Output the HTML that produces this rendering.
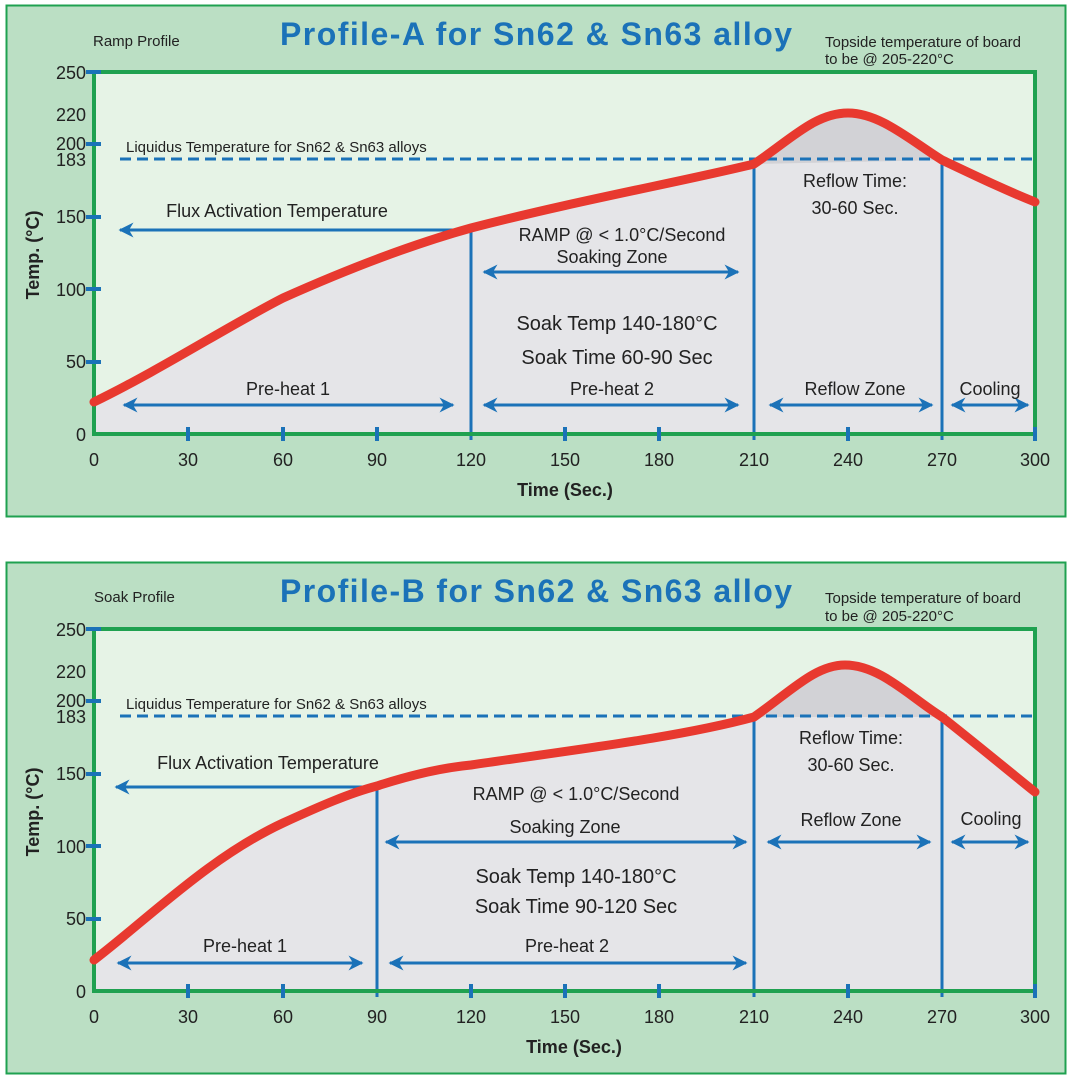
<!DOCTYPE html>
<html><head><meta charset="utf-8"><style>
body{margin:0;background:#fff;}
svg{display:block;font-family:"Liberation Sans",sans-serif;}
</style></head><body>
<svg width="1071" height="1080" viewBox="0 0 1071 1080">
<defs>
<marker id="ah" viewBox="0 0 10 10" refX="9" refY="5" markerWidth="8" markerHeight="5" orient="auto-start-reverse"><path d="M0,0 L10,5 L0,10 L3,5 Z" fill="#1b72b8"/></marker>
<clipPath id="ca"><rect x="94" y="72" width="941" height="362"/></clipPath>
<clipPath id="cb"><rect x="94" y="72" width="941" height="362"/></clipPath>
</defs>

<!-- Panel A -->
<g id="A">
<rect x="6.5" y="5.5" width="1059" height="511" fill="#bbdfc4" stroke="#1fa150" stroke-width="2"/>
<rect x="94" y="72" width="941" height="362" fill="#e6f3e6"/>
<path d="M94,402 C160,370 230,325 283,298 C350,268 410,245 471,228 C580,200 680,182 754,164 C790,140 815,113 848,113 C880,113 910,140 942,160 C980,178 1005,190 1035,202 L1035,434 L94,434 Z" fill="#e5e5e8"/>
<path d="M754,164 C790,140 815,113 848,113 C880,113 910,140 942,160 Z" fill="#d2d2d6" clip-path="url(#ca)"/>
<line x1="120" y1="159" x2="1035" y2="159" stroke="#1b72b8" stroke-width="3" stroke-dasharray="11,6"/>
<g stroke="#1b72b8" stroke-width="3">
<line x1="471" y1="228" x2="471" y2="440"/><line x1="754" y1="164" x2="754" y2="440"/><line x1="942" y1="160" x2="942" y2="440"/>
<line x1="471" y1="230" x2="120" y2="230" marker-end="url(#ah)"/>
<line x1="124" y1="405" x2="453" y2="405" marker-start="url(#ah)" marker-end="url(#ah)"/>
<line x1="484" y1="405" x2="738" y2="405" marker-start="url(#ah)" marker-end="url(#ah)"/>
<line x1="484" y1="272" x2="738" y2="272" marker-start="url(#ah)" marker-end="url(#ah)"/>
<line x1="770" y1="405" x2="932" y2="405" marker-start="url(#ah)" marker-end="url(#ah)"/>
<line x1="952" y1="405" x2="1028" y2="405" marker-start="url(#ah)" marker-end="url(#ah)"/>
</g>
<path d="M94,72 L1035,72 L1035,434 L94,434 Z" fill="none" stroke="#1fa150" stroke-width="4"/>
<g stroke="#1b72b8" stroke-width="4">
<line x1="86" y1="72" x2="101" y2="72"/><line x1="86" y1="144" x2="101" y2="144"/><line x1="86" y1="217" x2="101" y2="217"/><line x1="86" y1="289" x2="101" y2="289"/><line x1="86" y1="362" x2="101" y2="362"/>
<line x1="188" y1="427" x2="188" y2="441"/><line x1="283" y1="427" x2="283" y2="441"/><line x1="377" y1="427" x2="377" y2="441"/><line x1="565" y1="427" x2="565" y2="441"/><line x1="659" y1="427" x2="659" y2="441"/><line x1="848" y1="427" x2="848" y2="441"/><line x1="1035" y1="427" x2="1035" y2="441"/>
</g>
<path d="M94,402 C160,370 230,325 283,298 C350,268 410,245 471,228 C580,200 680,182 754,164 C790,140 815,113 848,113 C880,113 910,140 942,160 C980,178 1005,190 1035,202" fill="none" stroke="#e8392f" stroke-width="9" stroke-linecap="round"/>
<g font-size="18" fill="#222" text-anchor="end">
<text x="86" y="79">250</text><text x="86" y="121">220</text><text x="86" y="150">200</text><text x="86" y="166">183</text><text x="86" y="223">150</text><text x="86" y="296">100</text><text x="86" y="368">50</text><text x="86" y="441">0</text>
</g>
<g font-size="18" fill="#222" text-anchor="middle">
<text x="94" y="466">0</text><text x="188" y="466">30</text><text x="283" y="466">60</text><text x="377" y="466">90</text><text x="471" y="466">120</text><text x="565" y="466">150</text><text x="659" y="466">180</text><text x="754" y="466">210</text><text x="848" y="466">240</text><text x="942" y="466">270</text><text x="1035" y="466">300</text>
</g>
<text x="565" y="496" font-size="18" font-weight="bold" text-anchor="middle" fill="#222">Time (Sec.)</text>
<text transform="translate(39,255) rotate(-90)" font-size="18" font-weight="bold" text-anchor="middle" fill="#222">Temp. (°C)</text>
<text x="93" y="46" font-size="15" fill="#222">Ramp Profile</text>
<text x="280" y="45" font-size="32" font-weight="bold" fill="#1b72b8" textLength="512" lengthAdjust="spacing">Profile-A for Sn62 &amp; Sn63 alloy</text>
<text x="825" y="47" font-size="15" fill="#222">Topside temperature of board</text>
<text x="825" y="64" font-size="15" fill="#222">to be @ 205-220°C</text>
<text x="126" y="152" font-size="15" fill="#222">Liquidus Temperature for Sn62 &amp; Sn63 alloys</text>
<g font-size="18" fill="#222" text-anchor="middle">
<text x="277" y="217">Flux Activation Temperature</text>
<text x="622" y="241">RAMP @ &lt; 1.0°C/Second</text>
<text x="612" y="263">Soaking Zone</text>
<text x="617" y="330" font-size="20">Soak Temp 140-180°C</text>
<text x="617" y="364" font-size="20">Soak Time 60-90 Sec</text>
<text x="288" y="395">Pre-heat 1</text>
<text x="612" y="395">Pre-heat 2</text>
<text x="855" y="395">Reflow Zone</text>
<text x="990" y="395">Cooling</text>
<text x="855" y="187">Reflow Time:</text>
<text x="855" y="214">30-60 Sec.</text>
</g>
</g>

<!-- Panel B -->
<g transform="translate(0,557)">
<rect x="6.5" y="5.5" width="1059" height="511" fill="#bbdfc4" stroke="#1fa150" stroke-width="2"/>
<rect x="94" y="72" width="941" height="362" fill="#e6f3e6"/>
<path d="M94,403 C150,360 210,300 283,266 C320,249 350,236 377,229 C420,215 450,210 471,208 C580,192 680,180 754,160 C790,135 815,108 845,108 C880,108 910,140 942,160 C980,190 1010,215 1035,235 L1035,434 L94,434 Z" fill="#e5e5e8"/>
<path d="M754,160 C790,135 815,108 845,108 C880,108 910,140 942,160 Z" fill="#d2d2d6" clip-path="url(#cb)"/>
<line x1="120" y1="159" x2="1035" y2="159" stroke="#1b72b8" stroke-width="3" stroke-dasharray="11,6"/>
<g stroke="#1b72b8" stroke-width="3">
<line x1="377" y1="229" x2="377" y2="440"/><line x1="754" y1="160" x2="754" y2="440"/><line x1="942" y1="160" x2="942" y2="440"/>
<line x1="377" y1="230" x2="116" y2="230" marker-end="url(#ah)"/>
<line x1="118" y1="406" x2="362" y2="406" marker-start="url(#ah)" marker-end="url(#ah)"/>
<line x1="390" y1="406" x2="746" y2="406" marker-start="url(#ah)" marker-end="url(#ah)"/>
<line x1="386" y1="285" x2="746" y2="285" marker-start="url(#ah)" marker-end="url(#ah)"/>
<line x1="768" y1="285" x2="930" y2="285" marker-start="url(#ah)" marker-end="url(#ah)"/>
<line x1="952" y1="285" x2="1028" y2="285" marker-start="url(#ah)" marker-end="url(#ah)"/>
</g>
<path d="M94,72 L1035,72 L1035,434 L94,434 Z" fill="none" stroke="#1fa150" stroke-width="4"/>
<g stroke="#1b72b8" stroke-width="4">
<line x1="86" y1="72" x2="101" y2="72"/><line x1="86" y1="144" x2="101" y2="144"/><line x1="86" y1="217" x2="101" y2="217"/><line x1="86" y1="289" x2="101" y2="289"/><line x1="86" y1="362" x2="101" y2="362"/>
<line x1="188" y1="427" x2="188" y2="441"/><line x1="283" y1="427" x2="283" y2="441"/><line x1="471" y1="427" x2="471" y2="441"/><line x1="565" y1="427" x2="565" y2="441"/><line x1="659" y1="427" x2="659" y2="441"/><line x1="848" y1="427" x2="848" y2="441"/><line x1="1035" y1="427" x2="1035" y2="441"/>
</g>
<path d="M94,403 C150,360 210,300 283,266 C320,249 350,236 377,229 C420,215 450,210 471,208 C580,192 680,180 754,160 C790,135 815,108 845,108 C880,108 910,140 942,160 C980,190 1010,215 1035,235" fill="none" stroke="#e8392f" stroke-width="9" stroke-linecap="round"/>
<g font-size="18" fill="#222" text-anchor="end">
<text x="86" y="79">250</text><text x="86" y="121">220</text><text x="86" y="150">200</text><text x="86" y="166">183</text><text x="86" y="223">150</text><text x="86" y="296">100</text><text x="86" y="368">50</text><text x="86" y="441">0</text>
</g>
<g font-size="18" fill="#222" text-anchor="middle">
<text x="94" y="466">0</text><text x="188" y="466">30</text><text x="283" y="466">60</text><text x="377" y="466">90</text><text x="471" y="466">120</text><text x="565" y="466">150</text><text x="659" y="466">180</text><text x="754" y="466">210</text><text x="848" y="466">240</text><text x="942" y="466">270</text><text x="1035" y="466">300</text>
</g>
<text x="574" y="496" font-size="18" font-weight="bold" text-anchor="middle" fill="#222">Time (Sec.)</text>
<text transform="translate(39,255) rotate(-90)" font-size="18" font-weight="bold" text-anchor="middle" fill="#222">Temp. (°C)</text>
<text x="94" y="45" font-size="15" fill="#222">Soak Profile</text>
<text x="280" y="45" font-size="32" font-weight="bold" fill="#1b72b8" textLength="512" lengthAdjust="spacing">Profile-B for Sn62 &amp; Sn63 alloy</text>
<text x="825" y="46" font-size="15" fill="#222">Topside temperature of board</text>
<text x="825" y="64" font-size="15" fill="#222">to be @ 205-220°C</text>
<text x="126" y="152" font-size="15" fill="#222">Liquidus Temperature for Sn62 &amp; Sn63 alloys</text>
<g font-size="18" fill="#222" text-anchor="middle">
<text x="268" y="212">Flux Activation Temperature</text>
<text x="576" y="243">RAMP @ &lt; 1.0°C/Second</text>
<text x="565" y="276">Soaking Zone</text>
<text x="576" y="326" font-size="20">Soak Temp 140-180°C</text>
<text x="576" y="356" font-size="20">Soak Time 90-120 Sec</text>
<text x="245" y="395">Pre-heat 1</text>
<text x="567" y="395">Pre-heat 2</text>
<text x="851" y="269">Reflow Zone</text>
<text x="991" y="268">Cooling</text>
<text x="851" y="187">Reflow Time:</text>
<text x="851" y="214">30-60 Sec.</text>
</g>
</g>
</svg>
</body></html>
